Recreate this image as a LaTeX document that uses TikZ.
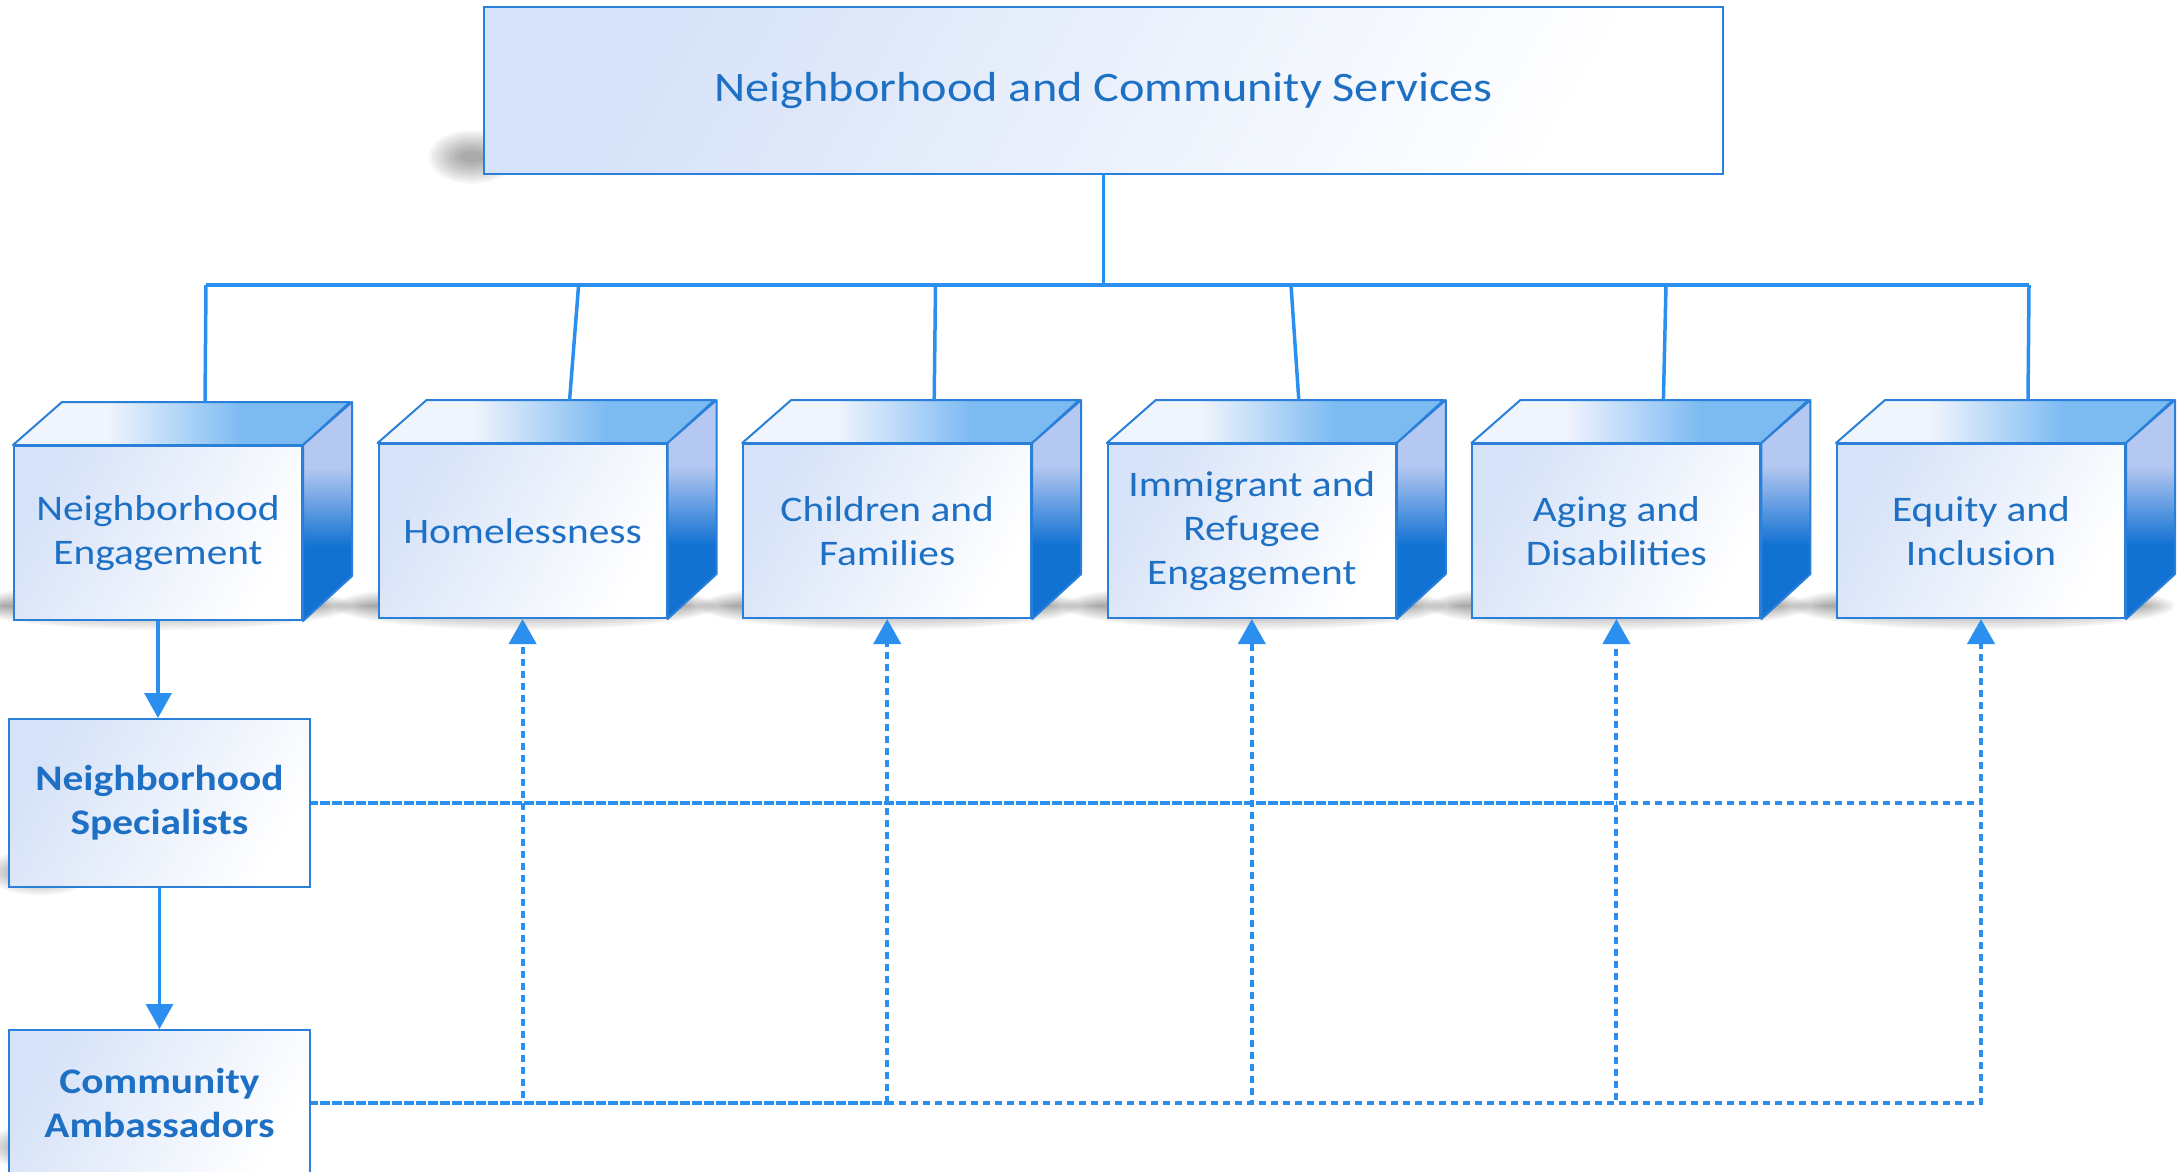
\documentclass[tikz,border=0pt]{standalone}
\usepackage{fontspec}
\setmainfont{Carlito}[FakeStretch=1.15]
\usetikzlibrary{arrows.meta,calc}
\definecolor{lineblue}{HTML}{2B8FEF}
\definecolor{edgeblue}{HTML}{2A80D8}
\definecolor{txtblue}{HTML}{1E70C4}
\definecolor{faceA}{HTML}{D6E2F8}
\definecolor{topA}{HTML}{F0F4FC}
\definecolor{topB}{HTML}{7CBAF2}
\definecolor{sideA}{HTML}{B5C8F1}
\definecolor{sideB}{HTML}{1272D2}
\pgfdeclarehorizontalshading{cubetop}{100bp}{color(0bp)=(topA); color(25bp)=(topA); color(39bp)=(topA); color(51bp)=(topB!60!topA); color(59bp)=(topB); color(75bp)=(topB); color(100bp)=(topB)}
\pgfdeclareverticalshading{cubeside}{100bp}{color(0bp)=(sideB); color(25bp)=(sideB); color(42bp)=(sideB); color(60bp)=(sideA); color(75bp)=(sideA); color(100bp)=(sideA)}
\tikzset{
  facebox/.style={draw=edgeblue, line width=2pt, top color=faceA, bottom color=white, shading angle=60,
    inner sep=0pt, text=txtblue, align=center, font=\fontsize{36}{44}\selectfont},
  titlebox/.style={facebox, minimum width=1239pt, minimum height=167pt, font=\fontsize{42}{50}\selectfont},
  cubefront/.style={facebox, minimum width=288pt, minimum height=174pt},
  staffbox/.style={facebox, minimum width=301pt, font=\bfseries\fontsize{36}{44}\selectfont},
  cubetopface/.style={shading=cubetop, draw=edgeblue, line width=2pt, line join=round},
  cubesideface/.style={shading=cubeside, draw=edgeblue, line width=2pt, line join=round},
  conn/.style={draw=lineblue, line width=3.5pt},
  dconn/.style={draw=lineblue, line width=4pt, dash pattern=on 7pt off 5pt},
  tipup/.style={-{Triangle[width=27pt,length=25pt]}},
  softshade/.style={fill=black, opacity=0.04}
}
\begin{document}
\begin{tikzpicture}[x=1pt,y=-1pt]
\useasboundingbox (0,0) rectangle (2182,1172);
\clip (0,0) rectangle (2182,1172);
% soft shadows
\foreach \i in {0,...,9}{
  \fill[softshade] (472,157) ellipse ({12+3.5*\i} and {5+2.4*\i});
  \fill[softshade] (40,872) ellipse ({22+3.5*\i} and {5+2*\i});
  \fill[softshade] (40,1147) ellipse ({22+3.5*\i} and {5+2*\i});
  \foreach \cx in {160,524.6,889.2,1253.8,1618.4,1983}{
    \fill[softshade] (\cx,606) ellipse ({160+3.5*\i} and {4+2.2*\i});
  }
}
% top box
\node[titlebox] (nc) at (1103.5,90.5) {Neighborhood and Community Services};
% cubes
\node[cubefront] (ne) at (158,533) {Neighborhood\\Engagement};
\node[cubefront] (hl) at (522.6,531) {Homelessness};
\node[cubefront] (cf) at (887.2,531) {Children and\\Families};
\node[cubefront] (ir) at (1251.8,531) {Immigrant and\\Refugee\\Engagement};
\node[cubefront] (ad) at (1616.4,531) {Aging and\\Disabilities};
\node[cubefront] (ei) at (1981,531) {Equity and\\Inclusion};
\foreach \n in {ne,hl,cf,ir,ad,ei}{
  \shade[cubetopface] (\n.north west) -- ++(49,-43) -- ++(288,0) -- (\n.north east) -- cycle;
  \shade[cubesideface] (\n.north east) -- ++(49,-43) -- ++(0,174) -- (\n.south east) -- cycle;
  \coordinate (\n-t) at ($(\n.north west)+(192,-43)$);
}
% staff boxes
\node[staffbox, minimum height=168pt] (ns) at (159.5,803) {Neighborhood\\Specialists};
\node[staffbox, minimum height=145pt] (ca) at (159.5,1102.5) {Community\\Ambassadors};
% bus
\coordinate (b1) at (206,285);
\coordinate (b2) at (578.6,285);
\coordinate (b3) at (935.5,285);
\coordinate (b4) at (1291,285);
\coordinate (b5) at (1666,285);
\coordinate (b6) at (2029,285);
\draw[conn] (nc.south) -- (nc.south |- b1);
\draw[conn] (b1) -- (b6);
\draw[conn] (b1) -- (ne-t);
\draw[conn] (b2) -- (hl-t);
\draw[conn] (b3) -- (cf-t);
\draw[conn] (b4) -- (ir-t);
\draw[conn] (b5) -- (ad-t);
\draw[conn] (b6) -- (ei-t);
% solid arrows
\draw[conn, tipup] (ne.south) -- (ne.south |- ns.north);
\draw[conn, tipup] (ns.south) -- (ca.north);
% dotted links
\draw[dconn] (ns.east) -- (ns.east -| ei.south);
\draw[dconn, dash phase=3pt] (ns.east) -- (ns.east -| ad.south);
\foreach \n in {hl,cf,ir,ad,ei}{
  \draw[dconn, tipup] (ca.east) -| (\n.south);
}
\draw[dconn, dash phase=3pt] (ca.east) -- (ca.east -| cf.south);
\end{tikzpicture}
\end{document}
